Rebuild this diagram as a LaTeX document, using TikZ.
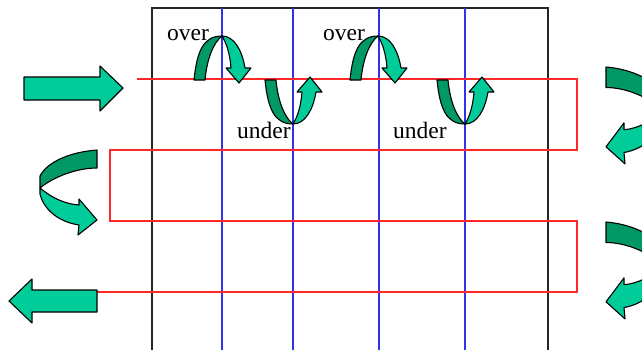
\documentclass[tikz,border=0pt]{standalone}
\usepackage{fontspec}
\setmainfont{Liberation Serif}
\definecolor{lightg}{RGB}{0,204,153}
\definecolor{darkg}{RGB}{0,153,102}
\definecolor{redl}{RGB}{255,40,40}
\definecolor{bluel}{RGB}{50,50,230}
\tikzset{
  outl/.style={draw=black, line width=1.1pt, line join=round},
  redpath/.style={draw=redl, line width=1.4pt},
  bluepath/.style={draw=bluel, line width=1.2pt},
  frame/.style={draw=black!85, line width=1.5pt},
  lbl/.style={anchor=base west, inner sep=0pt, font=\fontsize{23.5}{24}\selectfont},
  overarrow/.pic={
    \path[fill=darkg, outl] (0,0) .. controls (3,-30) and (10,-44) .. (28,-44)
      .. controls (20,-38) and (13,-22) .. (11,0) -- cycle;
    \path[fill=lightg, outl] (28,-44) .. controls (40,-44) and (48,-30) .. (51,-12)
      -- (57,-12) -- (45,3) -- (32,-12) -- (37,-12)
      .. controls (36,-25) and (33,-36) .. (28,-44) -- cycle;
  },
  carrow/.pic={
    \path[fill=darkg, outl] (0,0) .. controls (-27,2) and (-50,12) .. (-57,26)
      -- (-57,38) .. controls (-45,28) and (-22,18) .. (0,18) -- cycle;
    \path[fill=lightg, outl] (-57,38) .. controls (-45,48) and (-32,54) .. (-18,55)
      -- (-18,49) -- (0,70) -- (-19,85) -- (-18,75)
      .. controls (-38,72) and (-53,60) .. (-57,44) -- cycle;
  }
}
\begin{document}
\begin{tikzpicture}[x=1pt,y=-1pt]
\useasboundingbox (0,0) rectangle (642,349);
\clip (0,0) rectangle (642,349);
\fill[white] (0,0) rectangle (642,349);
% frame
\draw[frame] (152,352) -- (152,8) -- (548,8) -- (548,352);
% blue lines
\draw[bluepath] (222,8) -- (222,352);
\draw[bluepath] (293,8) -- (293,352);
\draw[bluepath] (379,8) -- (379,352);
\draw[bluepath] (465,8) -- (465,352);
% red path
\coordinate (r0) at (137,79);
\coordinate (r1) at (577,79);
\coordinate (r2) at (577,150);
\coordinate (r3) at (110,150);
\coordinate (r4) at (110,221);
\coordinate (r5) at (577,221);
\coordinate (r6) at (577,292);
\coordinate (r7) at (97,292);
\draw[redpath] (r0) -- (r1) -- (r2) -- (r3) -- (r4) -- (r5) -- (r6) -- (r7);
% straight arrows
\path[fill=lightg, outl] (24,77) -- (100,77) -- (100,66) -- (123,88) -- (100,111) -- (100,100) -- (24,100) -- cycle;
\path[fill=lightg, outl] (97,290) -- (32,290) -- (32,279) -- (9,301) -- (32,323) -- (32,312) -- (97,312) -- cycle;
% over / under arrows
\pic at (194,80) {overarrow};
\pic[yscale=-1] at (265,80) {overarrow};
\pic at (350,80) {overarrow};
\pic[yscale=-1] at (437,80) {overarrow};
% side curved arrows
\pic at (97,150) {carrow};
\pic[xscale=-1, yscale=1.14] at (606,67) {carrow};
\pic[xscale=-1, yscale=1.14] at (606,222) {carrow};
% labels
\node[lbl] (o1) at (167,40) {over};
\node[lbl] (o2) at (323,40) {over};
\node[lbl] (u1) at (237,138) {under};
\node[lbl] (u2) at (393,138) {under};
\end{tikzpicture}
\end{document}
